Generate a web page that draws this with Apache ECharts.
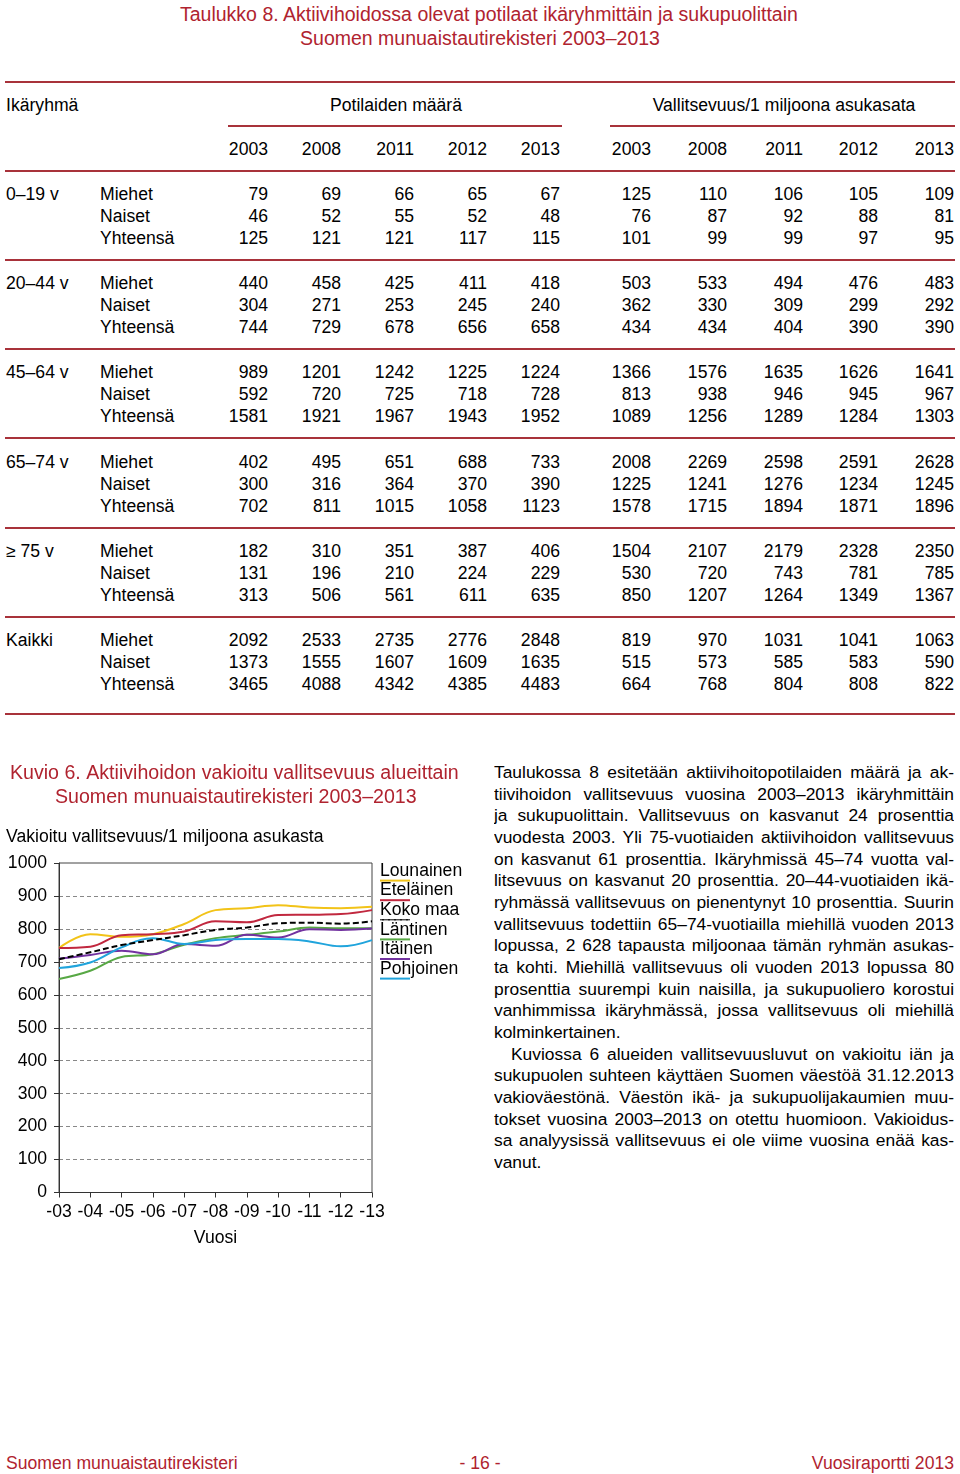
<!DOCTYPE html>
<html>
<head>
<meta charset="utf-8">
<script src="https://cdn.jsdelivr.net/npm/echarts@6/dist/echarts.min.js"></script>
<style>
  body { margin: 0; width: 960px; height: 1474px; position: relative; background: #fff;
         font-family: 'Liberation Sans', Arial, sans-serif; font-size: 17.6px; color: #000; }
  .t { position: absolute; white-space: nowrap; line-height: 22px; }
  .red { color: #b0232f; }
  .rule { position: absolute; background: #a8323a; }
  .para { position: absolute; left: 494px; width: 460px; line-height: 21.67px; font-size: 17.4px; }
  .para div { text-align: justify; text-align-last: justify; height: 21.67px; overflow: hidden; }
  .para div.last { text-align-last: left; }
  #chart { position: absolute; left: 0; top: 760px; width: 480px; height: 500px; }
</style>
</head>
<body>
<div id="page"></div>
<div id="chart"></div>
<script>
// --- taulukko 8 ---
const tableYears = ['2003', '2008', '2011', '2012', '2013'];
const ageGroups = ['0–19 v', '20–44 v', '45–64 v', '65–74 v', '≥ 75 v', 'Kaikki'];
const sexes = ['Miehet', 'Naiset', 'Yhteensä'];
// potilaiden määrä [ikäryhmä][sukupuoli][vuosi]
const counts = [
  [[79, 69, 66, 65, 67], [46, 52, 55, 52, 48], [125, 121, 121, 117, 115]],
  [[440, 458, 425, 411, 418], [304, 271, 253, 245, 240], [744, 729, 678, 656, 658]],
  [[989, 1201, 1242, 1225, 1224], [592, 720, 725, 718, 728], [1581, 1921, 1967, 1943, 1952]],
  [[402, 495, 651, 688, 733], [300, 316, 364, 370, 390], [702, 811, 1015, 1058, 1123]],
  [[182, 310, 351, 387, 406], [131, 196, 210, 224, 229], [313, 506, 561, 611, 635]],
  [[2092, 2533, 2735, 2776, 2848], [1373, 1555, 1607, 1609, 1635], [3465, 4088, 4342, 4385, 4483]]
];
// vallitsevuus / 1 miljoona asukasta
const prevalence = [
  [[125, 110, 106, 105, 109], [76, 87, 92, 88, 81], [101, 99, 99, 97, 95]],
  [[503, 533, 494, 476, 483], [362, 330, 309, 299, 292], [434, 434, 404, 390, 390]],
  [[1366, 1576, 1635, 1626, 1641], [813, 938, 946, 945, 967], [1089, 1256, 1289, 1284, 1303]],
  [[2008, 2269, 2598, 2591, 2628], [1225, 1241, 1276, 1234, 1245], [1578, 1715, 1894, 1871, 1896]],
  [[1504, 2107, 2179, 2328, 2350], [530, 720, 743, 781, 785], [850, 1207, 1264, 1349, 1367]],
  [[819, 970, 1031, 1041, 1063], [515, 573, 585, 583, 590], [664, 768, 804, 808, 822]]
];

// --- kuvio 6 ---
const chartYears = ['-03', '-04', '-05', '-06', '-07', '-08', '-09', '-10', '-11', '-12', '-13'];
const regions = ['Lounainen', 'Eteläinen', 'Koko maa', 'Läntinen', 'Itäinen', 'Pohjoinen'];
const lounainen = [742, 784, 776, 784, 815, 857, 863, 872, 865, 863, 867];
const etelainen = [742, 746, 781, 784, 792, 823, 820, 842, 843, 845, 857];
const kokoMaa = [708, 729, 751, 766, 781, 797, 804, 817, 819, 816, 823];
const lantinen = [648, 673, 715, 723, 752, 772, 782, 792, 804, 802, 802];
const itainen = [710, 721, 734, 723, 754, 749, 782, 774, 799, 797, 801];
const pohjoinen = [681, 698, 744, 772, 754, 766, 769, 769, 762, 747, 766];
const yTicks = [0, 100, 200, 300, 400, 500, 600, 700, 800, 900, 1000];

const regionColors = ['#f2c318', '#c1283f', '#000000', '#58a845', '#7232a0', '#20a4dc'];
const FONT = "'Liberation Sans', Arial, sans-serif";

// tekstit ja viivat sivulle
const page = document.getElementById('page');
function txt(s, x, y, align, cls, extra) {
  const d = document.createElement('div');
  d.className = 't ' + (cls || '');
  d.textContent = s;
  d.style.top = (y - 11) + 'px';
  if (align === 'right') d.style.right = (960 - x) + 'px';
  else if (align === 'center') { d.style.left = (x - 300) + 'px'; d.style.width = '600px'; d.style.textAlign = 'center'; }
  else d.style.left = x + 'px';
  if (extra) Object.assign(d.style, extra);
  page.appendChild(d);
}
function rule(x1, x2, y, h) {
  const d = document.createElement('div');
  d.className = 'rule';
  d.style.left = x1 + 'px'; d.style.width = (x2 - x1) + 'px';
  d.style.top = (y - h / 2) + 'px'; d.style.height = h + 'px';
  page.appendChild(d);
}

txt('Taulukko 8. Aktiivihoidossa olevat potilaat ikäryhmittäin ja sukupuolittain', 480, 14, 'center', 'red', { fontSize: '19.5px' });
txt('Suomen munuaistautirekisteri 2003–2013', 480, 38, 'center', 'red', { fontSize: '19.5px' });

rule(5, 955, 82, 2.5);
txt('Ikäryhmä', 6, 105);
txt('Potilaiden määrä', 396, 105, 'center');
txt('Vallitsevuus/1 miljoona asukasata', 784, 105, 'center');
rule(228, 562, 126, 1.5);
rule(610, 955, 126, 1.5);

const countCols = [268, 341, 414, 487, 560];
const prevCols = [651, 727, 803, 878, 954];
tableYears.forEach((y, i) => { txt(y, countCols[i], 149, 'right'); txt(y, prevCols[i], 149, 'right'); });
rule(5, 955, 171, 2.5);

ageGroups.forEach((g, gi) => {
  const top = 194 + gi * 89.2;
  txt(g, 6, top);
  sexes.forEach((s, si) => {
    const y = top + si * 22;
    txt(s, 100, y);
    counts[gi][si].forEach((v, i) => txt(String(v), countCols[i], y, 'right'));
    prevalence[gi][si].forEach((v, i) => txt(String(v), prevCols[i], y, 'right'));
  });
  if (gi < ageGroups.length - 1) rule(5, 955, top + 66, 2);
});
rule(5, 955, 714, 2.5);

// leipäteksti
const para1 = [
  'Taulukossa 8 esitetään aktiivihoitopotilaiden määrä ja ak-',
  'tiivihoidon vallitsevuus vuosina 2003–2013 ikäryhmittäin',
  'ja sukupuolittain. Vallitsevuus on kasvanut 24 prosenttia',
  'vuodesta 2003. Yli 75-vuotiaiden aktiivihoidon vallitsevuus',
  'on kasvanut 61 prosenttia. Ikäryhmissä 45–74 vuotta val-',
  'litsevuus on kasvanut 20 prosenttia. 20–44-vuotiaiden ikä-',
  'ryhmässä vallitsevuus on pienentynyt 10 prosenttia. Suurin',
  'vallitsevuus todettiin 65–74-vuotiailla miehillä vuoden 2013',
  'lopussa, 2 628 tapausta miljoonaa tämän ryhmän asukas-',
  'ta kohti. Miehillä vallitsevuus oli vuoden 2013 lopussa 80',
  'prosenttia suurempi kuin naisilla, ja sukupuoliero korostui',
  'vanhimmissa ikäryhmässä, jossa vallitsevuus oli miehillä',
  'kolminkertainen.'
];
const para2 = [
  'Kuviossa 6 alueiden vallitsevuusluvut on vakioitu iän ja',
  'sukupuolen suhteen käyttäen Suomen väestöä 31.12.2013',
  'vakioväestönä. Väestön ikä- ja sukupuolijakaumien muu-',
  'tokset vuosina 2003–2013 on otettu huomioon. Vakioidus-',
  'sa analyysissä vallitsevuus ei ole viime vuosina enää kas-',
  'vanut.'
];
const para = document.createElement('div');
para.className = 'para';
para.style.top = (772 - 10) + 'px';
[para1, para2].forEach((p, pi) => {
  p.forEach((line, li) => {
    const d = document.createElement('div');
    d.textContent = line;
    if (li === p.length - 1) d.className = 'last';
    if (pi === 1 && li === 0) d.style.textIndent = '17px';
    para.appendChild(d);
  });
});
page.appendChild(para);

// alatunniste
txt('Suomen munuaistautirekisteri', 6, 1463, 'left', 'red');
txt('- 16 -', 480, 1463, 'center', 'red');
txt('Vuosiraportti 2013', 954, 1463, 'right', 'red');

// kuvio
const chart = echarts.init(document.getElementById('chart'));
const seriesData = [lounainen, etelainen, kokoMaa, lantinen, itainen, pohjoinen];

const legendRich = { t: { fontSize: 17.6, lineHeight: 15.6, color: '#000', fontFamily: FONT } };
regionColors.forEach((c, i) => {
  legendRich['u' + i] = i === 2
    ? { width: 30, height: 0, lineHeight: 3.6, fontSize: 2, borderColor: '#000', borderWidth: 1, borderType: [4, 2] }
    : { width: 30, height: 2, lineHeight: 3.6, fontSize: 2, backgroundColor: c };
});

const titleStyle = { color: '#b0232f', fontSize: 19.6, fontWeight: 'normal', fontFamily: FONT };

const option = {
  animation: false,
  title: [
    { text: 'Kuvio 6. Aktiivihoidon vakioitu vallitsevuus alueittain', left: 10, top: 4, padding: 0, textStyle: titleStyle },
    { text: 'Suomen munuaistautirekisteri 2003–2013', left: 55, top: 28, padding: 0, textStyle: titleStyle },
    {
      text: 'Vakioitu vallitsevuus/1 miljoona asukasta',
      left: 6, top: 68, padding: 0,
      textStyle: { color: '#000', fontSize: 17.6, fontWeight: 'normal', fontFamily: FONT }
    }
  ],
  legend: {
    orient: 'vertical',
    left: 370, top: 97,
    itemWidth: 0, itemHeight: 0, itemGap: 0,
    icon: 'rect',
    data: regions,
    formatter: name => '{t|' + name + '}\n{u' + regions.indexOf(name) + '| }',
    textStyle: { rich: legendRich }
  },
  grid: {
    left: 59, top: 103, width: 313, height: 329.5,
    show: true, borderColor: '#444', borderWidth: 1
  },
  xAxis: {
    type: 'category',
    data: chartYears,
    boundaryGap: false,
    name: 'Vuosi',
    nameLocation: 'middle',
    nameGap: 37,
    nameTextStyle: { color: '#000', fontSize: 17.6, fontFamily: FONT },
    axisLine: { lineStyle: { color: '#333' } },
    axisTick: { show: true, length: 5, lineStyle: { color: '#333' } },
    axisLabel: { color: '#000', fontSize: 17.6, margin: 11, fontFamily: FONT, interval: 0 },
    splitLine: { show: false }
  },
  yAxis: {
    type: 'value',
    min: yTicks[0], max: yTicks[yTicks.length - 1], interval: 100,
    axisLine: { show: true, lineStyle: { color: '#333' } },
    axisTick: { show: true, length: 5, lineStyle: { color: '#333' } },
    axisLabel: { color: '#000', fontSize: 17.6, margin: 12, fontFamily: FONT, formatter: v => String(v) },
    splitLine: { show: true, showMinLine: false, showMaxLine: false, lineStyle: { color: '#888', type: [4, 3] } }
  },
  series: regions.map((name, i) => ({
    name,
    type: 'line',
    data: seriesData[i],
    smooth: 0.4,
    symbol: 'none',
    color: regionColors[i],
    lineStyle: { width: 2, color: regionColors[i], type: i === 2 ? [6, 3] : 'solid' },
    z: i === 2 ? 5 : 2
  }))
};
chart.setOption(option);
</script>
</body>
</html>
